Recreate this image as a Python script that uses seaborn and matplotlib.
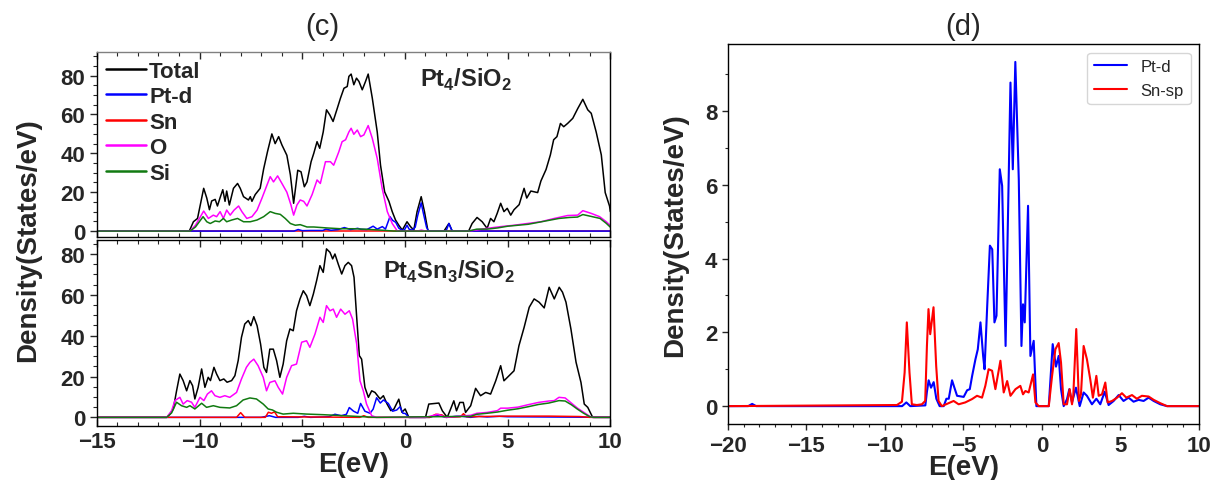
import matplotlib
matplotlib.use('Agg')
import seaborn as sns
import matplotlib.pyplot as plt
from matplotlib.ticker import MultipleLocator

sns.set_style('ticks')
plt.rcParams['font.family'] = ['Liberation Sans', 'DejaVu Sans']
plt.rcParams['mathtext.fontset'] = 'custom'
plt.rcParams['mathtext.rm'] = 'Liberation Sans'
plt.rcParams['mathtext.bf'] = 'Liberation Sans:bold'

# ---------------- (c) top : Pt4/SiO2 ----------------
top_tot_e = [-15, -10.5, -10.3, -10.1, -9.8, -9.65, -9.52, -9.41, -9.24, -9.13,
             -9.0, -8.87, -8.76, -8.68, -8.55, -8.35, -8.15, -8.02, -7.86, -7.62,
             -7.53, -7.45, -7.29, -7.05, -6.88, -6.69, -6.48, -6.32, -6.15, -5.99,
             -5.75, -5.58, -5.42, -5.22, -5.06, -4.9, -4.77, -4.57, -4.44, -4.28,
             -4.15, -3.98, -3.82, -3.66, -3.5, -3.3, -3.14, -2.97, -2.81, -2.73,
             -2.62, -2.49, -2.36, -2.24, -2.08, -1.92, -1.79, -1.59, -1.35, -1.19,
             -0.99, -0.78, -0.62, -0.46, -0.3, -0.13, 0.1, 0.27, 0.43, 0.59,
             0.79, 0.95, 1.12, 1.9, 2.14, 2.3, 3.1, 3.27, 3.51, 3.76,
             4.0, 4.17, 4.33, 4.49, 4.66, 4.82, 4.98, 5.15, 5.31, 5.56,
             5.8, 5.93, 6.13, 6.46, 6.62, 6.87, 7.08, 7.24, 7.4, 7.57,
             7.73, 7.92, 8.17, 8.41, 8.66, 8.9, 9.07, 9.31, 9.56, 9.75,
             9.96, 10]
top_tot_v = [0, 0, 4.8, 6.5, 22, 17, 11, 15.5, 16.3, 12.9,
             17.2, 21.3, 15.3, 20.6, 13.4, 22, 24.5, 22, 17.7, 16,
             17.7, 15.3, 18.8, 22, 32, 41, 50, 45, 48.6, 44.3,
             39, 29, 14.3, 31.3, 30.5, 22.8, 25.3, 35.7, 40, 46,
             42.6, 51, 62.4, 59.8, 56.4, 63, 68.4, 73.5, 74.4, 79.6,
             80.8, 75.3, 78.7, 77, 72.7, 77, 80.8, 68.4, 51, 33.9,
             20.2, 15.3, 10, 5.7, 3, 0.5, 4.8, 2.3, 0.5, 10,
             17.7, 10, 0, 0, 3.9, 0, 0, 3.9, 7, 4.8,
             1.4, 6.5, 4.8, 9.1, 14.3, 10, 11.7, 8.2, 11, 13.6,
             22, 17, 20.6, 19.8, 25.8, 31.7, 39.2, 47, 48.6, 55.4,
             53.7, 55.4, 58, 63, 67.8, 62.4, 60.6, 51, 39.2, 19.8,
             12.9, 10]

top_pt_e = [-15, -5.4, -5.2, -5.0, -4.6, -4.0, -3.85, -3.6, -3.25, -2.95,
            -2.65, -2.3, -2.15, -1.85, -1.55, -1.35, -1.1, -0.95, -0.73, -0.6,
            -0.45, -0.3, -0.15, -0.03, 0.1, 0.2, 0.35, 0.5, 0.62, 0.79,
            0.9, 1.05, 1.15, 2.0, 2.14, 2.3, 10]
top_pt_v = [0, 0, 0.8, 0.2, 0.3, 0.3, 1.0, 0.4, 0.8, 1.8,
            0.8, 1.4, 0.9, 0.8, 2.5, 1.0, 2.3, 1.0, 7.4, 5.5,
            4.5, 1.5, 0.5, 0.5, 3.0, 1.0, 0.5, 2.0, 8.0, 14.5,
            9.0, 2.0, 0, 0, 3.9, 0, 0]

top_sn_e = [-15, 10]
top_sn_v = [0, 0]

top_o_e = [-15, -10.46, -10.2, -9.8, -9.57, -9.33, -9.17, -9.0, -8.84, -8.68,
           -8.51, -8.32, -8.1, -7.94, -7.7, -7.45, -7.2, -6.96, -6.75, -6.56,
           -6.4, -6.2, -5.99, -5.75, -5.55, -5.42, -5.26, -5.1, -4.93, -4.77,
           -4.52, -4.28, -4.12, -3.87, -3.63, -3.47, -3.22, -3.06, -2.89, -2.73,
           -2.62, -2.49, -2.32, -2.16, -2.0, -1.79, -1.59, -1.35, -1.11, -0.86,
           -0.62, -0.37, 0.6, 0.8, 1.0, 3.1, 4.0, 4.66, 5.31, 5.96,
           6.62, 7.27, 7.92, 8.41, 8.66, 9.07, 9.48, 9.8, 10]
top_o_v = [0, 0, 3, 10.3, 6.5, 8.2, 7.4, 10, 6.5, 10.8,
           8.2, 10.8, 12.9, 10, 6.5, 7.4, 10.8, 17, 22.8, 28,
           25.3, 28.4, 24.5, 20, 13.4, 8.2, 13.4, 16, 15.3, 12.9,
           18.8, 26.3, 24.5, 35.7, 35.7, 33.9, 40.8, 46, 47, 51,
           52.9, 49.8, 52, 48.6, 49.5, 54.3, 47.7, 37.4, 22, 10,
           3.9, 0, 0, 0.5, 0, 0, 1.4, 2.3, 3, 3.9,
           4.8, 6.5, 8, 8.2, 10.5, 9.1, 7.4, 4.8, 2.8]

top_si_e = [-15, -10.46, -10.2, -9.83, -9.65, -9.48, -9.24, -9.03, -8.84, -8.68,
            -8.43, -8.15, -7.86, -7.53, -7.2, -6.88, -6.56, -6.32, -6.07, -5.83,
            -5.58, -5.34, -5.1, -4.77, -4.44, -3.79, -3.14, -2.49, -1.84, -1.19,
            -0.54, 3.1, 3.5, 4.0, 4.5, 5.0, 5.5, 6.0, 6.5, 7.0,
            7.5, 8.0, 8.4, 8.66, 9.0, 9.5, 9.8, 10]
top_si_v = [0, 0, 2.1, 7.4, 4.8, 3.9, 5.2, 4.8, 6.5, 4.8,
            5.7, 6.5, 4.8, 4.8, 5.7, 7.4, 10, 9.1, 8.6, 6.5,
            3.9, 3, 3.3, 2.1, 2.1, 1.6, 1.2, 1.2, 0.9, 0.5,
            0, 0, 1.0, 1.0, 1.6, 2.5, 3, 3.5, 4.5, 5.5,
            6.5, 7, 7.2, 8.5, 7.7, 6.5, 4, 2]

# ---------------- (c) bottom : Pt4Sn3/SiO2 ----------------
bot_tot_e = [-15, -11.6, -11.44, -11.28, -11.12, -10.96, -10.8, -10.63, -10.47, -10.34,
             -10.23, -10.07, -9.9, -9.74, -9.58, -9.47, -9.3, -9.17, -9.01, -8.82,
             -8.66, -8.44, -8.28, -8.12, -7.96, -7.8, -7.63, -7.5, -7.36, -7.2,
             -7.03, -6.87, -6.74, -6.58, -6.41, -6.25, -6.09, -5.93, -5.76, -5.6,
             -5.44, -5.28, -5.11, -4.95, -4.79, -4.63, -4.46, -4.3, -4.14, -3.98,
             -3.82, -3.65, -3.52, -3.41, -3.25, -3.08, -2.92, -2.76, -2.6, -2.48,
             -2.35, -2.22, -2.11, -1.95, -1.78, -1.62, -1.46, -1.21, -1.05, -0.87,
             -0.69, -0.54, -0.3, -0.15, 0.01, 0.19, 1.0, 1.16, 1.65, 1.82,
             2.06, 2.22, 2.38, 2.51, 2.67, 2.84, 2.95, 3.2, 3.44, 3.68,
             3.93, 4.17, 4.42, 4.66, 4.82, 5.07, 5.31, 5.55, 5.8, 6.05,
             6.29, 6.53, 6.78, 7.02, 7.27, 7.51, 7.67, 7.84, 8.08, 8.33,
             8.57, 8.73, 8.9, 9.14, 10]
bot_tot_v = [0, 0, 1.6, 4.1, 13, 21.2, 18, 13, 18, 15.5,
             9, 14.7, 23.7, 14.7, 19.6, 18, 24.5, 21.2, 18, 18.8,
             17.2, 18, 20.4, 27.8, 39.2, 45.7, 47.4, 44.9, 49.3, 44.9,
             35.9, 24.5, 22, 33.4, 33.4, 27.8, 19.6, 26.1, 37.5, 43.3,
             42.4, 52.2, 58, 62, 59.6, 54.7, 60.4, 67, 74.3, 71,
             82.5, 80.8, 77.6, 80, 75.1, 70.2, 74.3, 75.9, 74.3, 68.6,
             49, 30.2, 28.5, 14.7, 9.8, 13, 12.2, 9, 10.6, 6.5,
             3.3, 4, 8.9, 2.5, 4.1, 0, 0, 6.5, 7, 3.2,
             0, 4, 8.1, 3.2, 7.3, 7.3, 2.4, 5.7, 14.2, 10.6,
             12.2, 11.4, 17.9, 25.3, 17.9, 20.4, 22.8, 35.1, 44, 53.9,
             58, 56.4, 53.6, 63.7, 58, 63.7, 61.3, 56.4, 43.3, 27,
             17.1, 6.5, 4.9, 0, 0]

bot_pt_e = [-15, -7.0, -6.6, -6.3, -5.2, -4.9, -4.6, -3.7, -3.41, -3.1,
            -2.85, -2.71, -2.5, -2.3, -2.16, -1.95, -1.7, -1.55, -1.38, -1.2,
            -1.05, -0.81, -0.6, -0.4, -0.24, -0.1, 0.01, 0.2, 1.2, 1.5,
            1.8, 2.0, 2.5, 2.8, 3.2, 3.6, 4.0, 4.6, 5.0, 10]
bot_pt_v = [0, 0, 0.8, 0, 0, 0.5, 0, 0.3, 1.5, 0.8,
            1.5, 4.8, 3.0, 2.0, 6.8, 3.0, 2.0, 4.0, 9.6, 7.0,
            8.5, 6.8, 3.0, 3.6, 5.2, 2.0, 1.9, 0, 0, 1.0,
            0.5, 0, 0.5, 0.5, 0, 0.5, 0.2, 0.5, 0.3, 0]

bot_sn_e = [-15, -8.2, -8.0, -7.8, -6.8, -6.65, -6.5, -6.35, -6.2, -2.2,
            -2.0, -1.8, 1.2, 1.5, 1.8, 2.0, 2.7, 2.85, 3.0, 5.0,
            7.0, 8.5, 9.0, 10]
bot_sn_v = [0, 0, 2.3, 0, 0, 2.5, 2.0, 2.7, 0.3, 0,
            0.8, 0, 0, 1.5, 1.2, 0, 0.3, 1.8, 0.3, 0.6,
            0.6, 0.4, 0, 0]

bot_o_e = [-15, -11.6, -11.36, -11.2, -10.96, -10.8, -10.6, -10.39, -10.23, -9.98,
           -9.79, -9.62, -9.42, -9.25, -9.01, -8.77, -8.53, -8.2, -7.96, -7.72,
           -7.55, -7.36, -7.15, -6.9, -6.74, -6.58, -6.33, -6.17, -5.96, -5.76,
           -5.52, -5.28, -5.03, -4.79, -4.63, -4.38, -4.14, -3.98, -3.82, -3.65,
           -3.49, -3.33, -3.13, -2.92, -2.71, -2.55, -2.35, -2.19, -2.03, -1.87,
           -1.62, -1.38, 1.0, 1.6, 2.0, 3.2, 3.5, 4.0, 4.5, 4.66,
           5.0, 5.5, 6.0, 6.5, 7.0, 7.27, 7.5, 7.8, 8.1, 8.4,
           8.7, 9.0, 9.14, 10]
bot_o_v = [0, 0, 3.3, 8.2, 9.8, 6.5, 8.2, 7.4, 4.9, 9.8,
           8.2, 11.4, 13, 10.6, 9.8, 10.6, 9.8, 12.2, 18.8, 24.5,
           26.9, 28.5, 25.3, 19.6, 13, 17.1, 17.9, 14.7, 11.4, 19.6,
           25.3, 26.1, 36.8, 37.5, 34.3, 40.8, 49, 46.5, 54.7, 52.2,
           53, 49, 53, 50.5, 52.2, 48.1, 35.9, 17.9, 13, 6.5,
           0.8, 0, 0, 1.5, 0, 1, 2.0, 2.4, 3.3, 4.5,
           4.5, 5.0, 6.2, 7.3, 8, 8.2, 9.8, 9.5, 7, 4.5,
           2.5, 0.5, 0, 0]

bot_si_e = [-15, -11.6, -11.36, -11.12, -10.88, -10.63, -10.47, -10.23, -9.9, -9.66,
            -9.33, -9.01, -8.53, -8.2, -7.88, -7.55, -7.23, -6.9, -6.66, -6.45,
            -6.25, -5.93, -5.44, -4.79, -3.98, -3.0, -2.03, -1.4, 3.2, 3.5,
            4.0, 4.5, 5.0, 5.5, 6.0, 6.5, 7.0, 7.5, 7.8, 8.1,
            8.4, 8.7, 9.0, 9.2, 10]
bot_si_v = [0, 0, 2.2, 7.4, 5.7, 4.9, 5.7, 4.1, 6.9, 4.9,
            5.7, 4.9, 4.6, 5.7, 8.5, 9.5, 9.0, 6.5, 4.1, 3.6,
            2.5, 1.6, 2.0, 1.6, 1.3, 0.8, 0.3, 0, 0.5, 1.5,
            2.0, 2.6, 3.5, 4.2, 5.2, 6.3, 7, 8.2, 8, 6.2,
            4, 2.0, 0.3, 0, 0]

# ---------------- (d) ----------------
d_pt_e = [-20, -18.7, -18.45, -18.2, -8.9, -8.63, -8.38, -7.42, -7.32, -7.21,
          -7.06, -6.89, -6.72, -6.51, -6.25, -6.08, -5.93, -5.72, -5.57, -5.4,
          -4.98, -4.76, -4.59, -4.44, -4.23, -4.08, -3.91, -3.74, -3.65, -3.48,
          -3.31, -3.16, -3.02, -2.89, -2.68, -2.53, -2.31, -2.0, -1.85, -1.69,
          -1.47, -1.3, -1.2, -1.09, -0.88, -0.73, -0.52, -0.35, 0.44, 0.69,
          0.9, 1.07, 1.22, 1.39, 1.6, 1.75, 1.92, 2.17, 2.41, 2.66,
          2.87, 3.19, 3.47, 3.72, 4.0, 4.25, 4.57, 4.89, 5.2, 5.52,
          5.84, 6.16, 6.48, 6.8, 7.12, 7.54, 7.97, 10]
d_pt_v = [0, 0, 0.06, 0, 0, 0.1, 0, 0.02, 0.39, 0.7,
          0.5, 0.65, 0.2, 0, 0, 0.2, 0.2, 0.7, 0.5, 0.28,
          0.25, 0.43, 0.46, 0.82, 1.27, 1.54, 2.27, 1.36, 1.0, 2.72,
          4.35, 4.25, 2.27, 2.45, 6.42, 5.97, 1.63, 8.77, 6.42, 9.33,
          6.15, 1.63, 2.76, 2.27, 5.43, 1.36, 1.77, 0, 0, 1.68,
          1.07, 1.36, 0.46, 0, 0.19, 0.46, 0.1, 0.5, 0, 0.37,
          0.28, 0.05, 0.2, 0.05, 0.39, 0.03, 0.14, 0.3, 0.14, 0.23,
          0.12, 0.17, 0.14, 0.23, 0.14, 0.05, 0, 0]

d_sn_e = [-20, -9.23, -8.91, -8.74, -8.6, -8.43, -8.28, -7.96, -7.64, -7.43,
          -7.32, -7.22, -7.11, -6.9, -6.73, -6.58, -6.37, -5.94, -5.62, -5.3,
          -4.88, -4.45, -4.13, -3.81, -3.6, -3.39, -3.17, -2.96, -2.64, -2.43,
          -2.21, -2.0, -1.68, -1.37, -1.2, -1.05, -0.84, -0.56, -0.41, -0.2,
          0.44, 0.65, 0.86, 1.07, 1.22, 1.39, 1.6, 1.77, 1.92, 2.0,
          2.19, 2.36, 2.49, 2.66, 2.87, 3.08, 3.25, 3.47, 3.62, 3.83,
          4.04, 4.19, 4.47, 4.79, 5.1, 5.38, 5.74, 6.05, 6.37, 6.8,
          7.12, 7.54, 7.97, 10]
d_sn_v = [0, 0.03, 0.12, 0.91, 2.27, 0.91, 0.05, 0.03, 0.05, 0.14,
          1.63, 2.63, 1.95, 2.68, 1.09, 0.14, 0, 0.08, 0.14, 0.05,
          0.1, 0.19, 0.28, 0.23, 0.55, 1.0, 0.96, 0.46, 1.23, 0.37,
          0.68, 0.28, 0.46, 0.55, 0.32, 0.41, 0.37, 0.86, 0.1, 0,
          0, 0.82, 1.54, 1.71, 1.18, 0.05, 0.05, 0.46, 0.05, 0.28,
          2.09, 0.14, 0.32, 1.63, 1.27, 0.73, 0.23, 0.82, 0.28, 0.32,
          0.64, 0.1, 0.14, 0.23, 0.35, 0.23, 0.3, 0.2, 0.28, 0.26,
          0.17, 0.08, 0, 0]

c_labels = ['Total', 'Pt-d', 'Sn', 'O', 'Si']
c_colors = ['black', '#0000ff', '#ff0000', '#ff00ff', '#117a11']


def draw(ax, e, v, color, lw, label=None, zorder=2):
    sns.lineplot(x=e, y=v, ax=ax, color=color, linewidth=lw, label=label,
                 estimator=None, legend=False, zorder=zorder)


fig = plt.figure(figsize=(12.11, 4.81), dpi=100)
ax_top = fig.add_axes([0.080, 0.505, 0.424, 0.385])
ax_bot = fig.add_axes([0.080, 0.112, 0.424, 0.388], sharex=ax_top)
ax_d = fig.add_axes([0.601, 0.116, 0.389, 0.790])

# (c) top
draw(ax_top, top_tot_e, top_tot_v, c_colors[0], 1.1, c_labels[0])
draw(ax_top, top_sn_e, top_sn_v, c_colors[2], 1.1, c_labels[2], zorder=1.5)
draw(ax_top, top_pt_e, top_pt_v, c_colors[1], 1.1, c_labels[1])
draw(ax_top, top_o_e, top_o_v, c_colors[3], 1.1, c_labels[3])
draw(ax_top, top_si_e, top_si_v, c_colors[4], 1.1, c_labels[4])

# (c) bottom
draw(ax_bot, bot_tot_e, bot_tot_v, c_colors[0], 1.1)
draw(ax_bot, bot_pt_e, bot_pt_v, c_colors[1], 1.1)
draw(ax_bot, bot_sn_e, bot_sn_v, c_colors[2], 1.1)
draw(ax_bot, bot_o_e, bot_o_v, c_colors[3], 1.1)
draw(ax_bot, bot_si_e, bot_si_v, c_colors[4], 1.1)

# (d)
draw(ax_d, d_pt_e, d_pt_v, '#0000ff', 1.5, 'Pt-d')
draw(ax_d, d_sn_e, d_sn_v, '#ff0000', 1.5, 'Sn-sp')

for ax, ylim in [(ax_top, (-3.1, 92.2)), (ax_bot, (-4.3, 87.1))]:
    ax.set_xlim(-15, 10)
    ax.set_ylim(*ylim)
    ax.xaxis.set_major_locator(MultipleLocator(5))
    ax.xaxis.set_minor_locator(MultipleLocator(1))
    ax.yaxis.set_major_locator(MultipleLocator(20))
    ax.yaxis.set_minor_locator(MultipleLocator(5))
    ax.tick_params(axis='x', which='both', direction='in', top=True, bottom=True)
    ax.tick_params(axis='y', which='both', direction='out', right=False)
    ax.tick_params(which='major', length=5, width=1, labelsize=16)
    ax.tick_params(which='minor', length=3, width=0.8)
    ax.set_xlabel('')
    ax.set_ylabel('')
    for s in ax.spines.values():
        s.set_visible(True)
        s.set_linewidth(1.0)
        s.set_color('black')
    plt.setp(ax.get_xticklabels() + ax.get_yticklabels(), fontweight='bold')

ax_top.spines['top'].set_color('0.5')
ax_top.tick_params(labelbottom=False)
ax_bot.set_xlabel('E(eV)', fontsize=20, fontweight='bold', labelpad=-1)

handles, labels = ax_top.get_legend_handles_labels()
order = [labels.index(l) for l in c_labels]
leg = ax_top.legend([handles[i] for i in order], [labels[i] for i in order],
                    loc='upper left', frameon=False, prop={'weight': 'bold', 'size': 16},
                    handlelength=1.8, handletextpad=0.15, labelspacing=0.2,
                    borderaxespad=0.3, borderpad=0.1)
for ln in leg.get_lines():
    ln.set_linewidth(1.8)

ax_top.text(0.63, 0.816, r'Pt$_\mathbf{4}$/SiO$_\mathbf{2}$', transform=ax_top.transAxes,
            fontsize=17, fontweight='bold', va='baseline', ha='left')
ax_bot.text(0.557, 0.795, r'Pt$_\mathbf{4}$Sn$_\mathbf{3}$/SiO$_\mathbf{2}$',
            transform=ax_bot.transAxes, fontsize=17, fontweight='bold',
            va='baseline', ha='left')

fig.text(0.023, 0.50, 'Density(States/eV)', rotation=90, fontsize=20,
         fontweight='bold', ha='center', va='center')
fig.text(0.266, 0.944, '(c)', fontsize=21, ha='center', va='center')

# (d) axes
ax_d.set_xlim(-20, 10)
ax_d.set_ylim(-0.49, 9.81)
ax_d.xaxis.set_major_locator(MultipleLocator(5))
ax_d.xaxis.set_minor_locator(MultipleLocator(1))
ax_d.yaxis.set_major_locator(MultipleLocator(2))
ax_d.yaxis.set_minor_locator(MultipleLocator(1))
ax_d.tick_params(which='major', direction='out', length=4, width=1, labelsize=16)
ax_d.tick_params(which='minor', direction='out', length=2.5, width=0.8)
for s in ax_d.spines.values():
    s.set_visible(True)
    s.set_linewidth(1.0)
    s.set_color('black')
plt.setp(ax_d.get_xticklabels() + ax_d.get_yticklabels(), fontweight='bold')
ax_d.set_xlabel('E(eV)', fontsize=20, fontweight='bold', labelpad=-1)
ax_d.set_ylabel('Density(States/eV)', fontsize=20, fontweight='bold', labelpad=12)
ax_d.legend(loc='upper right', fontsize=12)
fig.text(0.795, 0.944, '(d)', fontsize=21, ha='center', va='center')

fig.savefig('out.png', dpi=100)
